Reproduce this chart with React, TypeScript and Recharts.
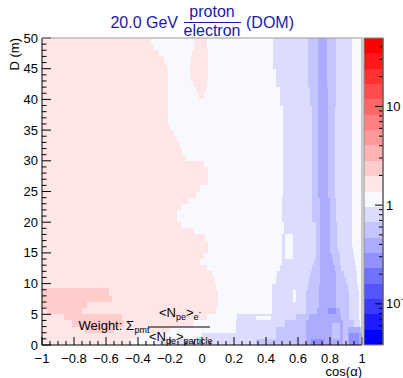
import { ScatterChart, BarChart, Bar, XAxis, YAxis, ReferenceArea } from "recharts";

const font = "'Liberation Sans', Arial, Helvetica, sans-serif";

// colour palette, index 0 = top of the colour bar (red), 19 = bottom (blue)
const palette = [
  "#ff0000", "#ff1a1a", "#ff3333", "#ff4d4d", "#ff6666",
  "#ff8080", "#ff9999", "#ffb3b3", "#ffcccc", "#ffe6e6",
  "#f8f8ff", "#dcdcfe", "#c4c4fe", "#acacfe", "#9090ff",
  "#7171ff", "#5555ff", "#3939ff", "#1c1cff", "#0000ff",
];

// contour level edges of the colour bar (low -> high)
const levelEdges = [
  0.0383, 0.0548, 0.0783, 0.112, 0.16, 0.229, 0.328, 0.469, 0.671, 0.96,
  1.374, 1.966, 2.812, 4.022, 5.754, 8.232, 11.78, 16.85, 24.1, 34.47, 49.32,
];

// one row per metre of D (row i covers D = i .. i+1)
// right edge (cos) of the light-pink region that starts at cos = -1
const pinkEdge = [
  -0.45, -0.4, -0.2, -0.05, 0.03, 0.09, 0.1, 0.1, 0.1, 0.09,
  0.08, 0.06, 0.03, -0.01, 0.01, 0.035, 0.035, 0.02, -0.05, -0.13,
  -0.155, -0.155, -0.13, -0.09, -0.04, -0.01, 0.035, 0.035, 0.035, 0.01,
  -0.1, -0.125, -0.14, -0.155, -0.18, -0.2, -0.21, -0.21, -0.21, -0.21,
  -0.21, -0.21, -0.21, -0.21, -0.21, -0.22, -0.24, -0.27, -0.3, -0.32,
];

// nested blue bands on the right
const band11Left = [
  -0.26, 0.0, 0.21, 0.21, 0.22, 0.44, 0.44, 0.44, 0.44, 0.44,
  0.46, 0.47, 0.49, 0.5, 0.5, 0.5, 0.5, 0.5, 0.51, 0.51,
  0.5, 0.5, 0.5, 0.5, 0.506, 0.506, 0.506, 0.506, 0.506, 0.506,
  0.506, 0.506, 0.506, 0.506, 0.506, 0.506, 0.506, 0.506, 0.506, 0.49,
  0.49, 0.49, 0.46, 0.46, 0.46, 0.444, 0.444, 0.444, 0.444, 0.444,
];
const band11Right = [
  1, 1, 1, 0.99, 0.98, 0.98, 0.98, 0.98, 0.98, 0.975,
  0.97, 0.97, 0.96, 0.955, 0.95, 0.945, 0.94, 0.94, 0.94, 0.94,
  0.9375, 0.9375, 0.9375, 0.9375, 0.9375, 0.9375, 0.9375, 0.9375, 0.9375, 0.9375,
  0.9375, 0.9375, 0.9375, 0.9375, 0.9375, 0.9375, 0.9375, 0.9375, 0.9375, 0.9375,
  0.9375, 0.9375, 0.9375, 0.9375, 0.9375, 0.9375, 0.9375, 0.9375, 0.9375, 0.9375,
];
const band12Left = [
  0.34, 0.46, 0.46, 0.52, 0.59, 0.65, 0.65, 0.65, 0.65, 0.66,
  0.67, 0.675, 0.69, 0.7, 0.71, 0.71, 0.71, 0.71, 0.71, 0.71,
  0.69, 0.69, 0.69, 0.69, 0.6875, 0.6875, 0.6875, 0.6875, 0.6875, 0.6875,
  0.6875, 0.6875, 0.6875, 0.6875, 0.6875, 0.6875, 0.6875, 0.6875, 0.6875, 0.675,
  0.675, 0.675, 0.66, 0.66, 0.66, 0.66, 0.66, 0.66, 0.66, 0.66,
];
const band12Right = [
  1, 1, 0.995, 0.95, 0.92, 0.92, 0.92, 0.92, 0.92, 0.91,
  0.9, 0.885, 0.87, 0.86, 0.86, 0.85, 0.845, 0.845, 0.845, 0.845,
  0.84, 0.84, 0.84, 0.84, 0.83, 0.83, 0.83, 0.83, 0.83, 0.83,
  0.83, 0.83, 0.83, 0.83, 0.83, 0.83, 0.83, 0.83, 0.83, 0.835,
  0.835, 0.835, 0.8375, 0.8375, 0.8375, 0.8375, 0.8375, 0.8375, 0.8375, 0.8375,
];
const band13Left = [
  0.65, 0.65, 0.65, 0.65, 0.67, 0.72, 0.73, 0.73, 0.73, 0.73,
  0.74, 0.74, 0.74, 0.74, 0.74, 0.74, 0.74, 0.74, 0.74, 0.74,
  0.735, 0.735, 0.735, 0.735, 0.725, 0.725, 0.725, 0.725, 0.725, 0.725,
  0.725, 0.725, 0.725, 0.725, 0.725, 0.725, 0.725, 0.725, 0.725, 0.725,
  0.725, 0.725, 0.725, 0.725, 0.725, 0.725, 0.725, 0.725, 0.725, 0.725,
];
const band13Right = [
  1, 1, 0.99, 0.88, 0.87, 0.86, 0.84, 0.84, 0.84, 0.84,
  0.84, 0.84, 0.83, 0.82, 0.81, 0.8, 0.8, 0.8, 0.8, 0.8,
  0.8, 0.8, 0.8, 0.8, 0.79, 0.79, 0.79, 0.79, 0.79, 0.79,
  0.79, 0.79, 0.79, 0.79, 0.79, 0.79, 0.79, 0.79, 0.79, 0.785,
  0.785, 0.785, 0.78, 0.78, 0.78, 0.78, 0.78, 0.78, 0.78, 0.78,
];

// [band, cos from, cos to, D from, D to]
const pinkPatches: number[][] = [
  [8, -1, -0.58, 8, 9.3],
  [8, -1, -0.56, 7, 8],
  [8, -1, -0.72, 6, 7],
  [8, -0.97, -0.75, 5, 6],
  [8, -0.86, -0.5, 4, 5],
  [8, -0.81, -0.49, 3, 4],
  [8, -0.73, -0.55, 2, 3],
  [9, -0.044, 0.031, 49, 50],
  [9, -0.05, 0.034, 48, 49],
  [9, -0.06, 0.037, 47, 48],
  [9, -0.07, 0.037, 46, 47],
  [9, -0.075, 0.037, 44, 46],
  [9, -0.07, 0.035, 43, 44],
  [9, -0.056, 0.031, 42, 43],
  [9, -0.04, 0.025, 41, 42],
  [9, -0.02, 0.012, 40, 41],
];
const bluePatches: number[][] = [
  [10, 0.34, 0.43, 4, 4.7],
  [10, 0.57, 0.59, 7, 9],
  [10, 0.52, 0.57, 14, 18],
  [14, 0.79, 0.84, 5, 6],
  [12, 0.81, 0.86, 1, 3.6],
  [12, 0.88, 0.91, 0, 3],
  [14, 0.92, 0.98, 0, 2],
  [14, 0.68, 0.76, 0, 1],
];

const xTicks = [
  -1, -0.95, -0.9, -0.85, -0.8, -0.75, -0.7, -0.65, -0.6, -0.55, -0.5,
  -0.45, -0.4, -0.35, -0.3, -0.25, -0.2, -0.15, -0.1, -0.05, 0,
  0.05, 0.1, 0.15, 0.2, 0.25, 0.3, 0.35, 0.4, 0.45, 0.5,
  0.55, 0.6, 0.65, 0.7, 0.75, 0.8, 0.85, 0.9, 0.95, 1,
];
const xMajor = [-1, -0.8, -0.6, -0.4, -0.2, 0, 0.2, 0.4, 0.6, 0.8, 1];
const xLabels = ["−1", "−0.8", "−0.6", "−0.4", "−0.2", "0", "0.2", "0.4", "0.6", "0.8", "1"];
const yTicks = [
  0, 1, 2, 3, 4, 5, 6, 7, 8, 9, 10, 11, 12, 13, 14, 15, 16, 17, 18, 19, 20,
  21, 22, 23, 24, 25, 26, 27, 28, 29, 30, 31, 32, 33, 34, 35, 36, 37, 38, 39, 40,
  41, 42, 43, 44, 45, 46, 47, 48, 49, 50,
];
const yMajor = [0, 5, 10, 15, 20, 25, 30, 35, 40, 45, 50];
// colour-bar ticks (ratio values, log axis)
const zTicks = [
  0.04, 0.05, 0.06, 0.07, 0.08, 0.09, 0.1, 0.2, 0.3, 0.4, 0.5, 0.6, 0.7, 0.8, 0.9,
  1, 2, 3, 4, 5, 6, 7, 8, 9, 10, 20, 30, 40,
];
const zMajor = [0.1, 1, 10];

type Box = { band: number; x1: number; x2: number; y1: number; y2: number };

const boxes: Box[] = [{ band: 10, x1: -1, x2: 1, y1: 0, y2: 50 }];
pinkEdge.forEach((e, i) => boxes.push({ band: 9, x1: -1, x2: e, y1: i, y2: i + 1 }));
pinkPatches.forEach((p) => boxes.push({ band: p[0], x1: p[1], x2: p[2], y1: p[3], y2: p[4] }));
band11Left.forEach((l, i) => boxes.push({ band: 11, x1: l, x2: band11Right[i], y1: i, y2: i + 1 }));
band12Left.forEach((l, i) => boxes.push({ band: 12, x1: l, x2: band12Right[i], y1: i, y2: i + 1 }));
band13Left.forEach((l, i) => boxes.push({ band: 13, x1: l, x2: band13Right[i], y1: i, y2: i + 1 }));
bluePatches.forEach((p) => boxes.push({ band: p[0], x1: p[1], x2: p[2], y1: p[3], y2: p[4] }));

// colour bar: stacked bar in decades above the lowest level
const lg = (v: number) => Math.log10(v);
const zBase = lg(levelEdges[0]);
const zSpan = lg(levelEdges[20]) - zBase;
const barRow: Record<string, number | string>[] = [{ name: "z" }];
levelEdges.slice(0, 20).forEach((lo, j) => {
  barRow[0][`b${j}`] = lg(levelEdges[j + 1]) - lg(lo);
});
const zAxisTicks = zTicks.map((v) => lg(v) - zBase);

const near = (a: number, b: number) => Math.abs(a - b) < 1e-6;

const cell = (color: string) => (p: any) => (
  <rect x={p.x} y={p.y} width={p.width} height={p.height} fill={color} shapeRendering="crispEdges" />
);

const XTick = (p: any) => {
  const v = p.payload.value;
  const k = xMajor.findIndex((m) => near(m, v));
  return (
    <g>
      <line x1={p.x} x2={p.x} y1={p.y} y2={p.y - (k >= 0 ? 8 : 4)} stroke="#000" />
      {k >= 0 && (
        <text x={p.x} y={p.y + 18} textAnchor="middle" fontSize={13} fontFamily={font} fill="#000">
          {xLabels[k]}
        </text>
      )}
    </g>
  );
};

const YTick = (p: any) => {
  const v = p.payload.value;
  const major = yMajor.some((m) => near(m, v));
  return (
    <g>
      <line x1={p.x} x2={p.x + (major ? 9 : 4.5)} y1={p.y} y2={p.y} stroke="#000" />
      {major && (
        <text x={p.x - 4} y={p.y + 4.5} textAnchor="end" fontSize={13} fontFamily={font} fill="#000">
          {v}
        </text>
      )}
    </g>
  );
};

const ZTick = (p: any) => {
  const v = Math.pow(10, p.payload.value + zBase);
  const major = zMajor.some((m) => Math.abs(v / m - 1) < 1e-4);
  return (
    <g>
      <line x1={p.x} x2={p.x - (major ? 8 : 4)} y1={p.y} y2={p.y} stroke="#000" />
      {major && (
        <text x={p.x + 3} y={p.y + 4.5} fontSize={13} fontFamily={font} fill="#000">
          {v >= 1 ? Math.round(v) : "10"}
          {v < 1 && (
            <tspan fontSize={9} dy={-6}>
              −1
            </tspan>
          )}
        </text>
      )}
    </g>
  );
};

const titleBlue = "#1a1aa8";

export default function App() {
  return (
    <div style={{ position: "absolute", left: 0, top: 0, width: 403, height: 378, background: "#fff" }}>
      <div style={{ position: "absolute", left: 0, top: 0 }}>
        <ScatterChart width={403} height={378} margin={{ top: 38, right: 41, bottom: 32, left: 41 }}>
          {boxes.map((b, i) => (
            <ReferenceArea
              key={i}
              x1={b.x1}
              x2={b.x2}
              y1={b.y1}
              y2={b.y2}
              ifOverflow="visible"
              fill={palette[b.band]}
              fillOpacity={1}
              stroke="none"
              shape={cell(palette[b.band])}
            />
          ))}
          <XAxis
            type="number"
            dataKey="x"
            domain={[-1, 1]}
            ticks={xTicks}
            interval={0}
            height={1}
            tickSize={0}
            tickMargin={0}
            tickLine={false}
            tick={XTick}
            axisLine={{ stroke: "#000" }}
            allowDataOverflow
          />
          <YAxis
            type="number"
            dataKey="y"
            domain={[0, 50]}
            ticks={yTicks}
            interval={0}
            width={1}
            tickSize={0}
            tickMargin={0}
            tickLine={false}
            tick={YTick}
            axisLine={{ stroke: "#000" }}
            allowDataOverflow
          />
        </ScatterChart>
      </div>
      <div style={{ position: "absolute", left: 0, top: 0 }}>
        <BarChart
          width={403}
          height={378}
          data={barRow}
          margin={{ top: 38, right: 19, bottom: 33, left: 364 }}
          barCategoryGap={0}
          barGap={0}
        >
          <XAxis dataKey="name" hide />
          <YAxis
            type="number"
            orientation="right"
            domain={[0, zSpan]}
            ticks={zAxisTicks}
            interval={0}
            width={1}
            tickSize={0}
            tickMargin={0}
            tickLine={false}
            tick={ZTick}
            axisLine={{ stroke: "#000" }}
            allowDataOverflow
          />
          {levelEdges.slice(0, 20).map((_, j) => (
            <Bar
              key={j}
              dataKey={`b${j}`}
              stackId="z"
              fill={palette[19 - j]}
              isAnimationActive={false}
              shape={cell(palette[19 - j])}
            />
          ))}
        </BarChart>
      </div>
      <svg
        width={403}
        height={378}
        style={{ position: "absolute", left: 0, top: 0, pointerEvents: "none" }}
        fontFamily={font}
      >
        <line x1={42} x2={362} y1={38} y2={38} stroke="#999" />
        <line x1={362} x2={362} y1={38} y2={345} stroke="#999" />
        <rect x={364} y={38} width={19} height={307} fill="none" stroke="#888" />
        <text x={178} y={28} textAnchor="end" fontSize={16} fill={titleBlue}>
          20.0 GeV
        </text>
        <text x={212} y={17} textAnchor="middle" fontSize={16} fill={titleBlue}>
          proton
        </text>
        <line x1={184} x2={241} y1={22.5} y2={22.5} stroke={titleBlue} />
        <text x={212} y={36} textAnchor="middle" fontSize={16} fill={titleBlue}>
          electron
        </text>
        <text x={246} y={28} fontSize={16} fill={titleBlue}>
          (DOM)
        </text>
        <text x={19} y={38} textAnchor="end" fontSize={13} transform="rotate(-90 19 38)">
          D (m)
        </text>
        <text x={362} y={376} textAnchor="end" fontSize={13}>
          cos(α)
        </text>
        <text x={134} y={330} textAnchor="end" fontSize={13}>
          Weight: Σ
        </text>
        <text x={134.5} y={333} fontSize={9}>
          pmt
        </text>
        <line x1={148} x2={210} y1={327} y2={327} stroke="#000" />
        <text x={180} y={317} textAnchor="middle" fontSize={13}>
          {"<N"}
          <tspan fontSize={9} dy={3}>
            pe
          </tspan>
          <tspan dy={-3}>{">"}</tspan>
          <tspan fontSize={9} dy={3}>
            e
          </tspan>
          <tspan fontSize={7} dy={-6}>
            -
          </tspan>
        </text>
        <text x={149} y={341} fontSize={13}>
          {"<N"}
          <tspan fontSize={9} dy={3}>
            pe
          </tspan>
          <tspan dy={-3}>{">"}</tspan>
          <tspan fontSize={9} dy={3}>
            particle
          </tspan>
        </text>
      </svg>
    </div>
  );
}
